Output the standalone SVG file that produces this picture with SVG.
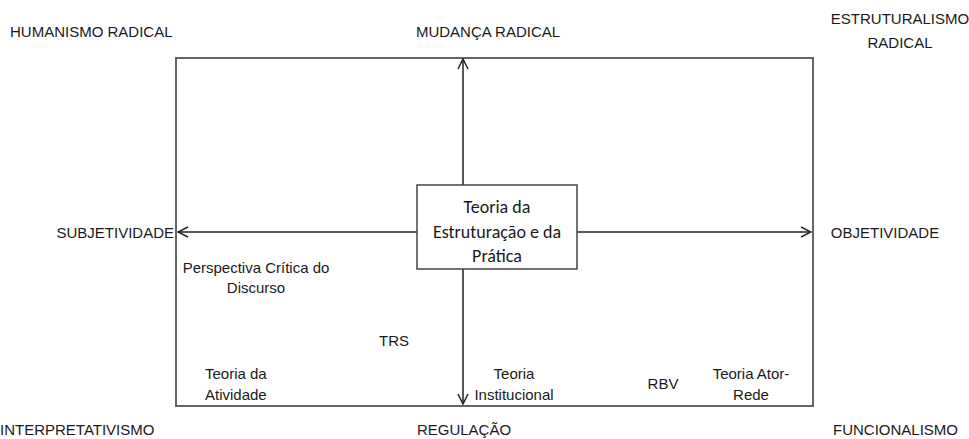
<svg xmlns="http://www.w3.org/2000/svg" width="969" height="439" viewBox="0 0 969 439">
<style>
.t{font-family:"Liberation Sans Narrow","Liberation Sans",Arial,sans-serif;font-size:15px;fill:#1a1a1a}
.c{font-family:"Carlito","Open Sans","Liberation Sans",sans-serif;font-size:18px;fill:#1a1a1a}
.ln{stroke:#222;stroke-width:1.5;fill:none}
</style>
<defs>
<marker id="ah" viewBox="0 0 12 12" refX="11" refY="6" markerWidth="12" markerHeight="12" markerUnits="userSpaceOnUse" orient="auto">
<polyline points="1,1 11,6 1,11" fill="none" stroke="#222" stroke-width="1.5"/>
</marker>
</defs>
<rect width="969" height="439" fill="#fff"/>
<g id="frame"><rect x="176" y="58" width="637" height="348" fill="none" stroke="#555" stroke-width="1.8"/></g>
<g id="connectors">
<line class="ln" x1="463" y1="185" x2="463" y2="59" marker-end="url(#ah)"/>
<line class="ln" x1="463" y1="269" x2="463" y2="404" marker-end="url(#ah)"/>
<line class="ln" x1="417" y1="232" x2="178" y2="232" marker-end="url(#ah)"/>
<line class="ln" x1="577" y1="232" x2="811" y2="232" marker-end="url(#ah)"/>
</g>
<g id="center">
<rect x="417" y="185" width="160" height="84" fill="#fff" stroke="#444" stroke-width="1.5"/>
<text class="c" text-anchor="middle"><tspan x="497" y="213">Teoria da</tspan><tspan x="497" y="238">Estruturação e da</tspan><tspan x="497" y="262">Prática</tspan></text>
</g>
<g id="humanismo"><text class="t" x="10" y="37">HUMANISMO RADICAL</text></g>
<g id="mudanca"><text class="t" x="488" y="37" text-anchor="middle">MUDANÇA RADICAL</text></g>
<g id="estruturalismo"><text class="t" text-anchor="middle"><tspan x="900" y="24">ESTRUTURALISMO</tspan><tspan x="900" y="48">RADICAL</tspan></text></g>
<g id="subjetividade"><text class="t" x="174" y="238" text-anchor="end">SUBJETIVIDADE</text></g>
<g id="objetividade"><text class="t" x="885" y="238" text-anchor="middle">OBJETIVIDADE</text></g>
<g id="perspectiva"><text class="t" text-anchor="middle"><tspan x="256" y="273">Perspectiva Crítica do</tspan><tspan x="256" y="293">Discurso</tspan></text></g>
<g id="trs"><text class="t" x="394" y="346" text-anchor="middle">TRS</text></g>
<g id="atividade"><text class="t"><tspan x="205" y="379">Teoria da</tspan><tspan x="205" y="400">Atividade</tspan></text></g>
<g id="institucional"><text class="t" text-anchor="middle"><tspan x="514" y="379">Teoria</tspan><tspan x="514" y="400">Institucional</tspan></text></g>
<g id="rbv"><text class="t" x="663" y="389" text-anchor="middle">RBV</text></g>
<g id="ator"><text class="t" text-anchor="middle"><tspan x="751" y="379">Teoria Ator-</tspan><tspan x="751" y="400">Rede</tspan></text></g>
<g id="interpretativismo"><text class="t" x="0" y="435">INTERPRETATIVISMO</text></g>
<g id="regulacao"><text class="t" x="464" y="435" text-anchor="middle">REGULAÇÃO</text></g>
<g id="funcionalismo"><text class="t" x="958" y="435" text-anchor="end">FUNCIONALISMO</text></g>
</svg>
